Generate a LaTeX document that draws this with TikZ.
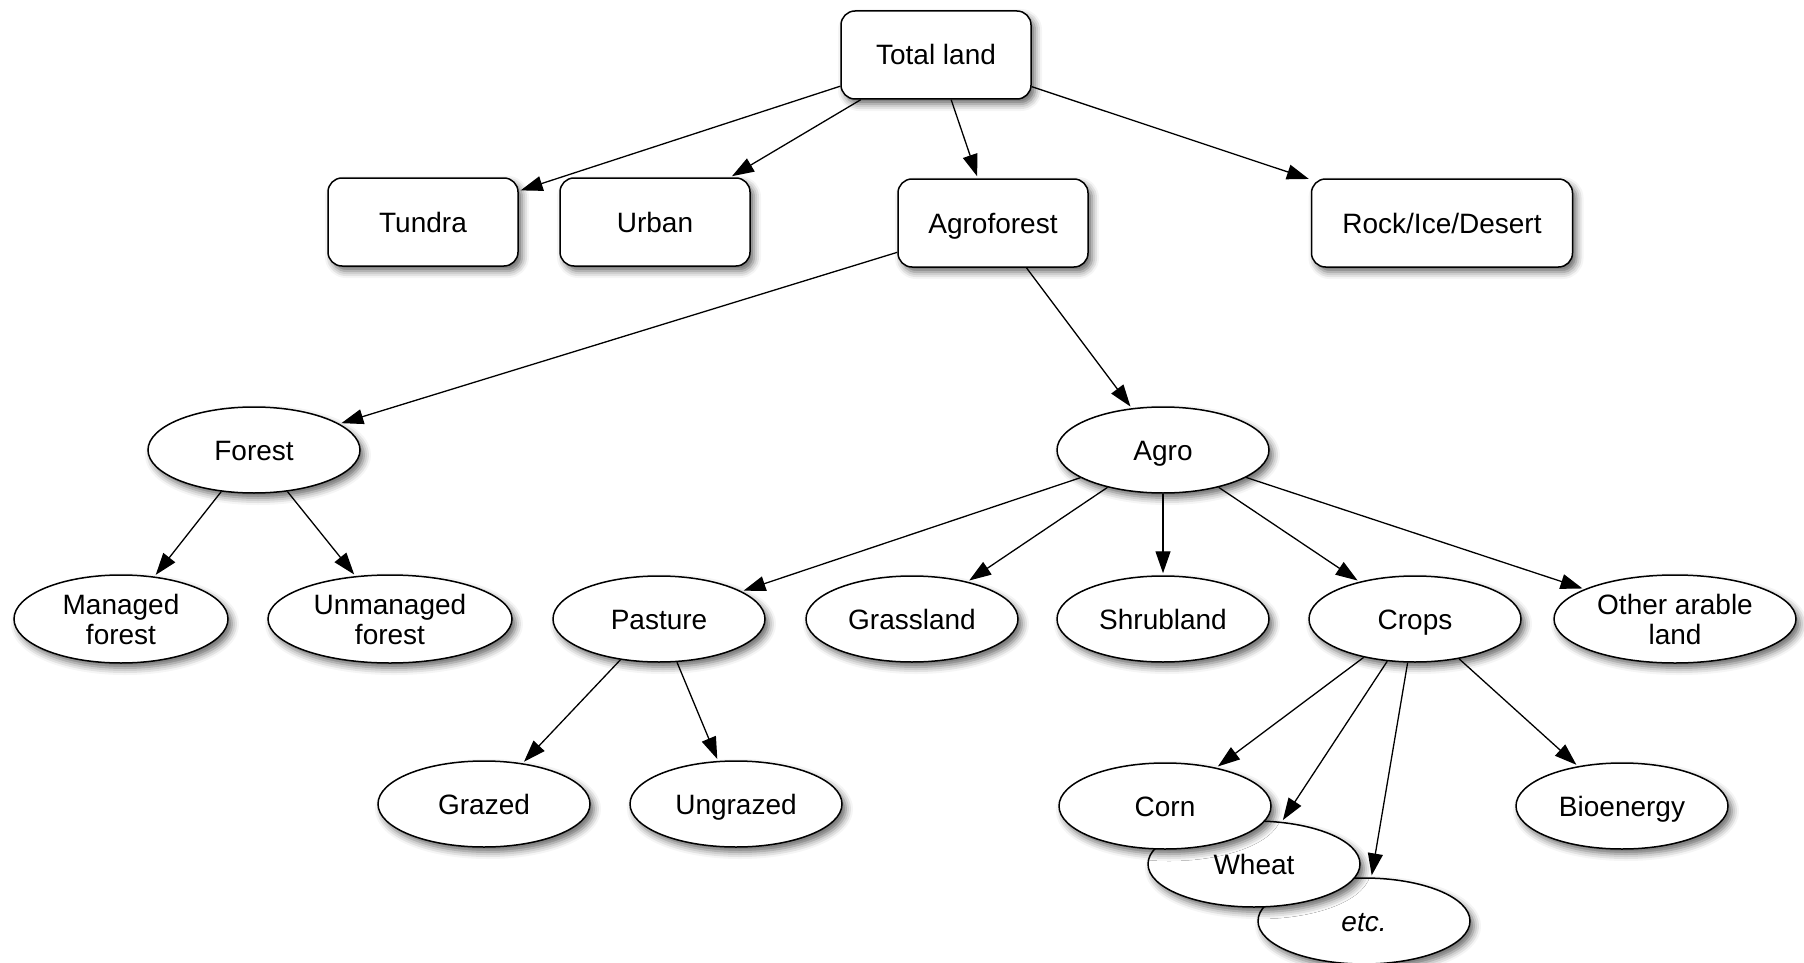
\documentclass[tikz,border=0pt]{standalone}
\usepackage{fontspec}
\setmainfont{Liberation Sans}
\usetikzlibrary{shapes.geometric,shadows.blur,arrows.meta}
\begin{document}
\begin{tikzpicture}[x=1pt,y=-1pt,
  shad/.style={blur shadow={shadow xshift=4pt, shadow yshift=-5pt, shadow blur radius=7pt, shadow opacity=60}},
  oneline/.style={text height=24pt, text depth=4pt},
  box/.style={shad, draw, line width=1.5pt, rounded corners=14pt, fill=white,
    minimum width=190pt, minimum height=88pt, inner sep=0pt, oneline,
    font=\fontsize{28}{30}\selectfont},
  ovalbase/.style={shad, draw, ellipse, line width=1.5pt, fill=white,
    minimum width=212pt, minimum height=86pt, inner sep=0pt, align=center,
    font=\fontsize{28}{30}\selectfont},
  oval/.style={ovalbase, oneline},
  arr/.style={line width=1.3pt, -{Triangle[length=22pt,width=15pt]}, shorten >=2pt}]
\useasboundingbox (0,0) rectangle (1804,963);

% top level
\node[box] (total) at (936,55) {Total land};
\node[box] (tundra) at (423,222) {Tundra};
\node[box] (urban) at (655,222) {Urban};
\node[box] (agroforest) at (993,223) {Agroforest};
\node[box, minimum width=261pt] (rock) at (1442,223) {Rock/Ice/Desert};

% second level
\node[oval] (forest) at (254,450) {Forest};
\node[oval] (agro) at (1163,450) {Agro};

% third level
\node[ovalbase, minimum width=214pt, minimum height=88pt] (managed) at (121,619) {Managed\\forest};
\node[ovalbase, minimum width=244pt, minimum height=88pt] (unmanaged) at (390,619) {Unmanaged\\forest};
\node[oval] (pasture) at (659,619) {Pasture};
\node[oval] (grassland) at (912,619) {Grassland};
\node[oval] (shrubland) at (1163,619) {Shrubland};
\node[oval] (crops) at (1415,619) {Crops};
\node[ovalbase, minimum width=242pt, minimum height=88pt] (other) at (1675,619) {Other arable\\land};

% fourth level
\node[oval] (grazed) at (484,804) {Grazed};
\node[oval] (ungrazed) at (736,804) {Ungrazed};
\node[oval] (etc) at (1364,921) {\textit{etc.}};
\node[oval] (wheat) at (1254,864) {Wheat};
\node[oval] (corn) at (1165,806) {Corn};
\node[oval] (bio) at (1622,806) {Bioenergy};

% edges
\draw[arr] (total) -- (tundra);
\draw[arr] (total) -- (urban);
\draw[arr] (total) -- (agroforest);
\draw[arr] (total) -- (rock);
\draw[arr] (agroforest) -- (forest);
\draw[arr] (agroforest) -- (agro);
\draw[arr] (forest) -- (managed);
\draw[arr] (forest) -- (unmanaged);
\draw[arr] (agro) -- (pasture);
\draw[arr] (agro) -- (grassland);
\draw[arr] (agro) -- (shrubland);
\draw[arr] (agro) -- (crops);
\draw[arr] (agro) -- (other);
\draw[arr] (pasture) -- (grazed);
\draw[arr] (pasture) -- (ungrazed);
\draw[arr] (crops) -- (corn);
\draw[arr] (crops) -- (wheat);
\draw[arr] (crops) -- (etc);
\draw[arr] (crops) -- (bio);
\end{tikzpicture}
\end{document}
